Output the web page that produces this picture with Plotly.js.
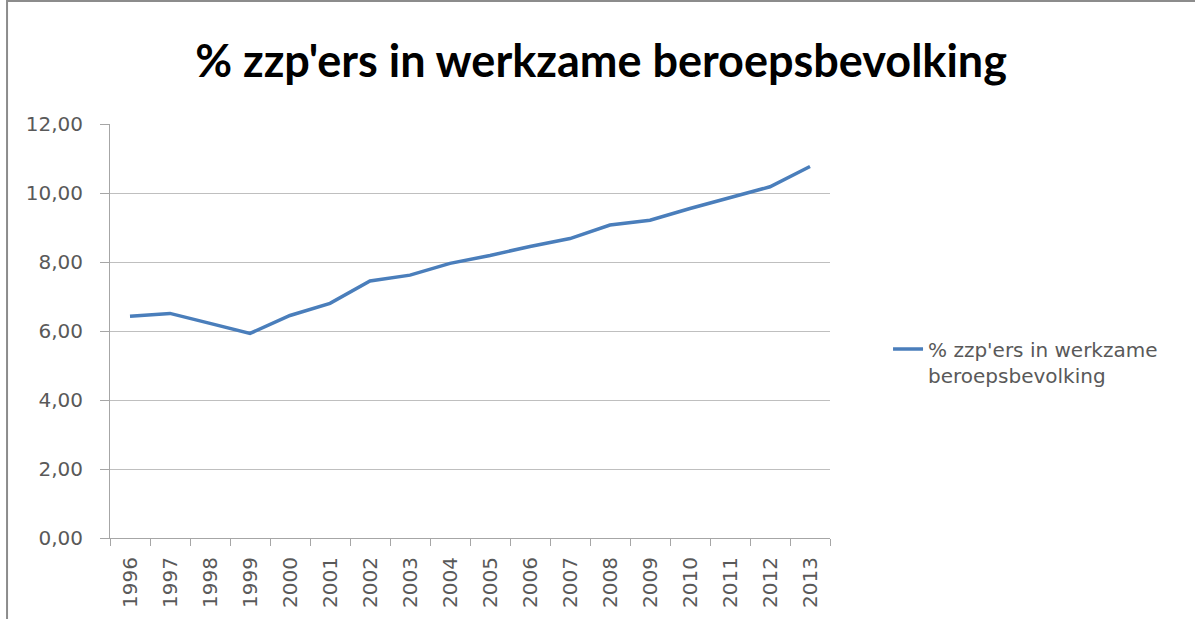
<!DOCTYPE html>
<html>
<head>
<meta charset="utf-8">
<script src="https://cdn.plot.ly/plotly-3.0.1.min.js"></script>
<style>html,body{margin:0;padding:0;background:#fff;}#chart{width:1195px;height:619px;}</style>
</head>
<body>
<div id="chart"></div>
<script>
const years = ["1996","1997","1998","1999","2000","2001","2002","2003","2004","2005","2006","2007","2008","2009","2010","2011","2012","2013"];
const zzpPercent = [6.43, 6.51, 6.22, 5.93, 6.45, 6.80, 7.45, 7.62, 7.96, 8.19, 8.45, 8.68, 9.07, 9.21, 9.55, 9.86, 10.18, 10.77];
const yTickVals = [0, 2, 4, 6, 8, 10, 12];
const yTickText = ["0,00", "2,00", "4,00", "6,00", "8,00", "10,00", "12,00"];
const seriesName = "% zzp'ers in werkzame<br>beroepsbevolking";
const chartTitle = "% zzp'ers in werkzame beroepsbevolking";

const trace = {
  x: years, y: zzpPercent, type: 'scatter', mode: 'lines',
  name: seriesName,
  line: {color: '#4a7ebb', width: 3.5}
};

const layout = {
  width: 1195, height: 619,
  paper_bgcolor: '#fff', plot_bgcolor: '#fff',
  margin: {l: 110, r: 365, t: 124, b: 81},
  font: {family: '"DejaVu Sans", sans-serif', color: '#595959', size: 20},
  title: {text: chartTitle, x: 0.503, xanchor: 'center', y: 0.901, yanchor: 'middle',
          font: {family: 'Lato, sans-serif', size: 45, color: '#000', weight: 'bold'}},
  xaxis: {
    type: 'category', range: [-0.5, 17.5], tickangle: -90, tickson: 'boundaries',
    ticks: 'outside', ticklen: 7, tickcolor: '#a6a6a6',
    ticklabelstandoff: 10,
    showline: true, linecolor: '#a6a6a6', linewidth: 1,
    showgrid: false, tickfont: {size: 20, color: '#595959'},
    fixedrange: true
  },
  yaxis: {
    range: [0, 12], tickvals: yTickVals, ticktext: yTickText,
    ticks: 'outside', ticklen: 9, tickcolor: '#a6a6a6',
    ticklabelstandoff: 13,
    showline: true, linecolor: '#a6a6a6', linewidth: 1,
    showgrid: true, gridcolor: '#bfbfbf', gridwidth: 1,
    zeroline: false, tickfont: {size: 20, color: '#595959'},
    fixedrange: true
  },
  showlegend: true,
  legend: {x: 1.0806, xanchor: 'left', y: 0.425, yanchor: 'middle', valign: 'top',
           font: {size: 20, color: '#595959'}, bgcolor: 'rgba(0,0,0,0)'},
  shapes: [{type: 'rect', xref: 'paper', yref: 'paper',
            x0: -0.143, x1: 1.6, y0: -0.4, y1: 1.297,
            line: {color: '#8c8c8c', width: 2}}]
};

Plotly.newPlot('chart', [trace], layout, {displayModeBar: false, staticPlot: true});
</script>
</body>
</html>
